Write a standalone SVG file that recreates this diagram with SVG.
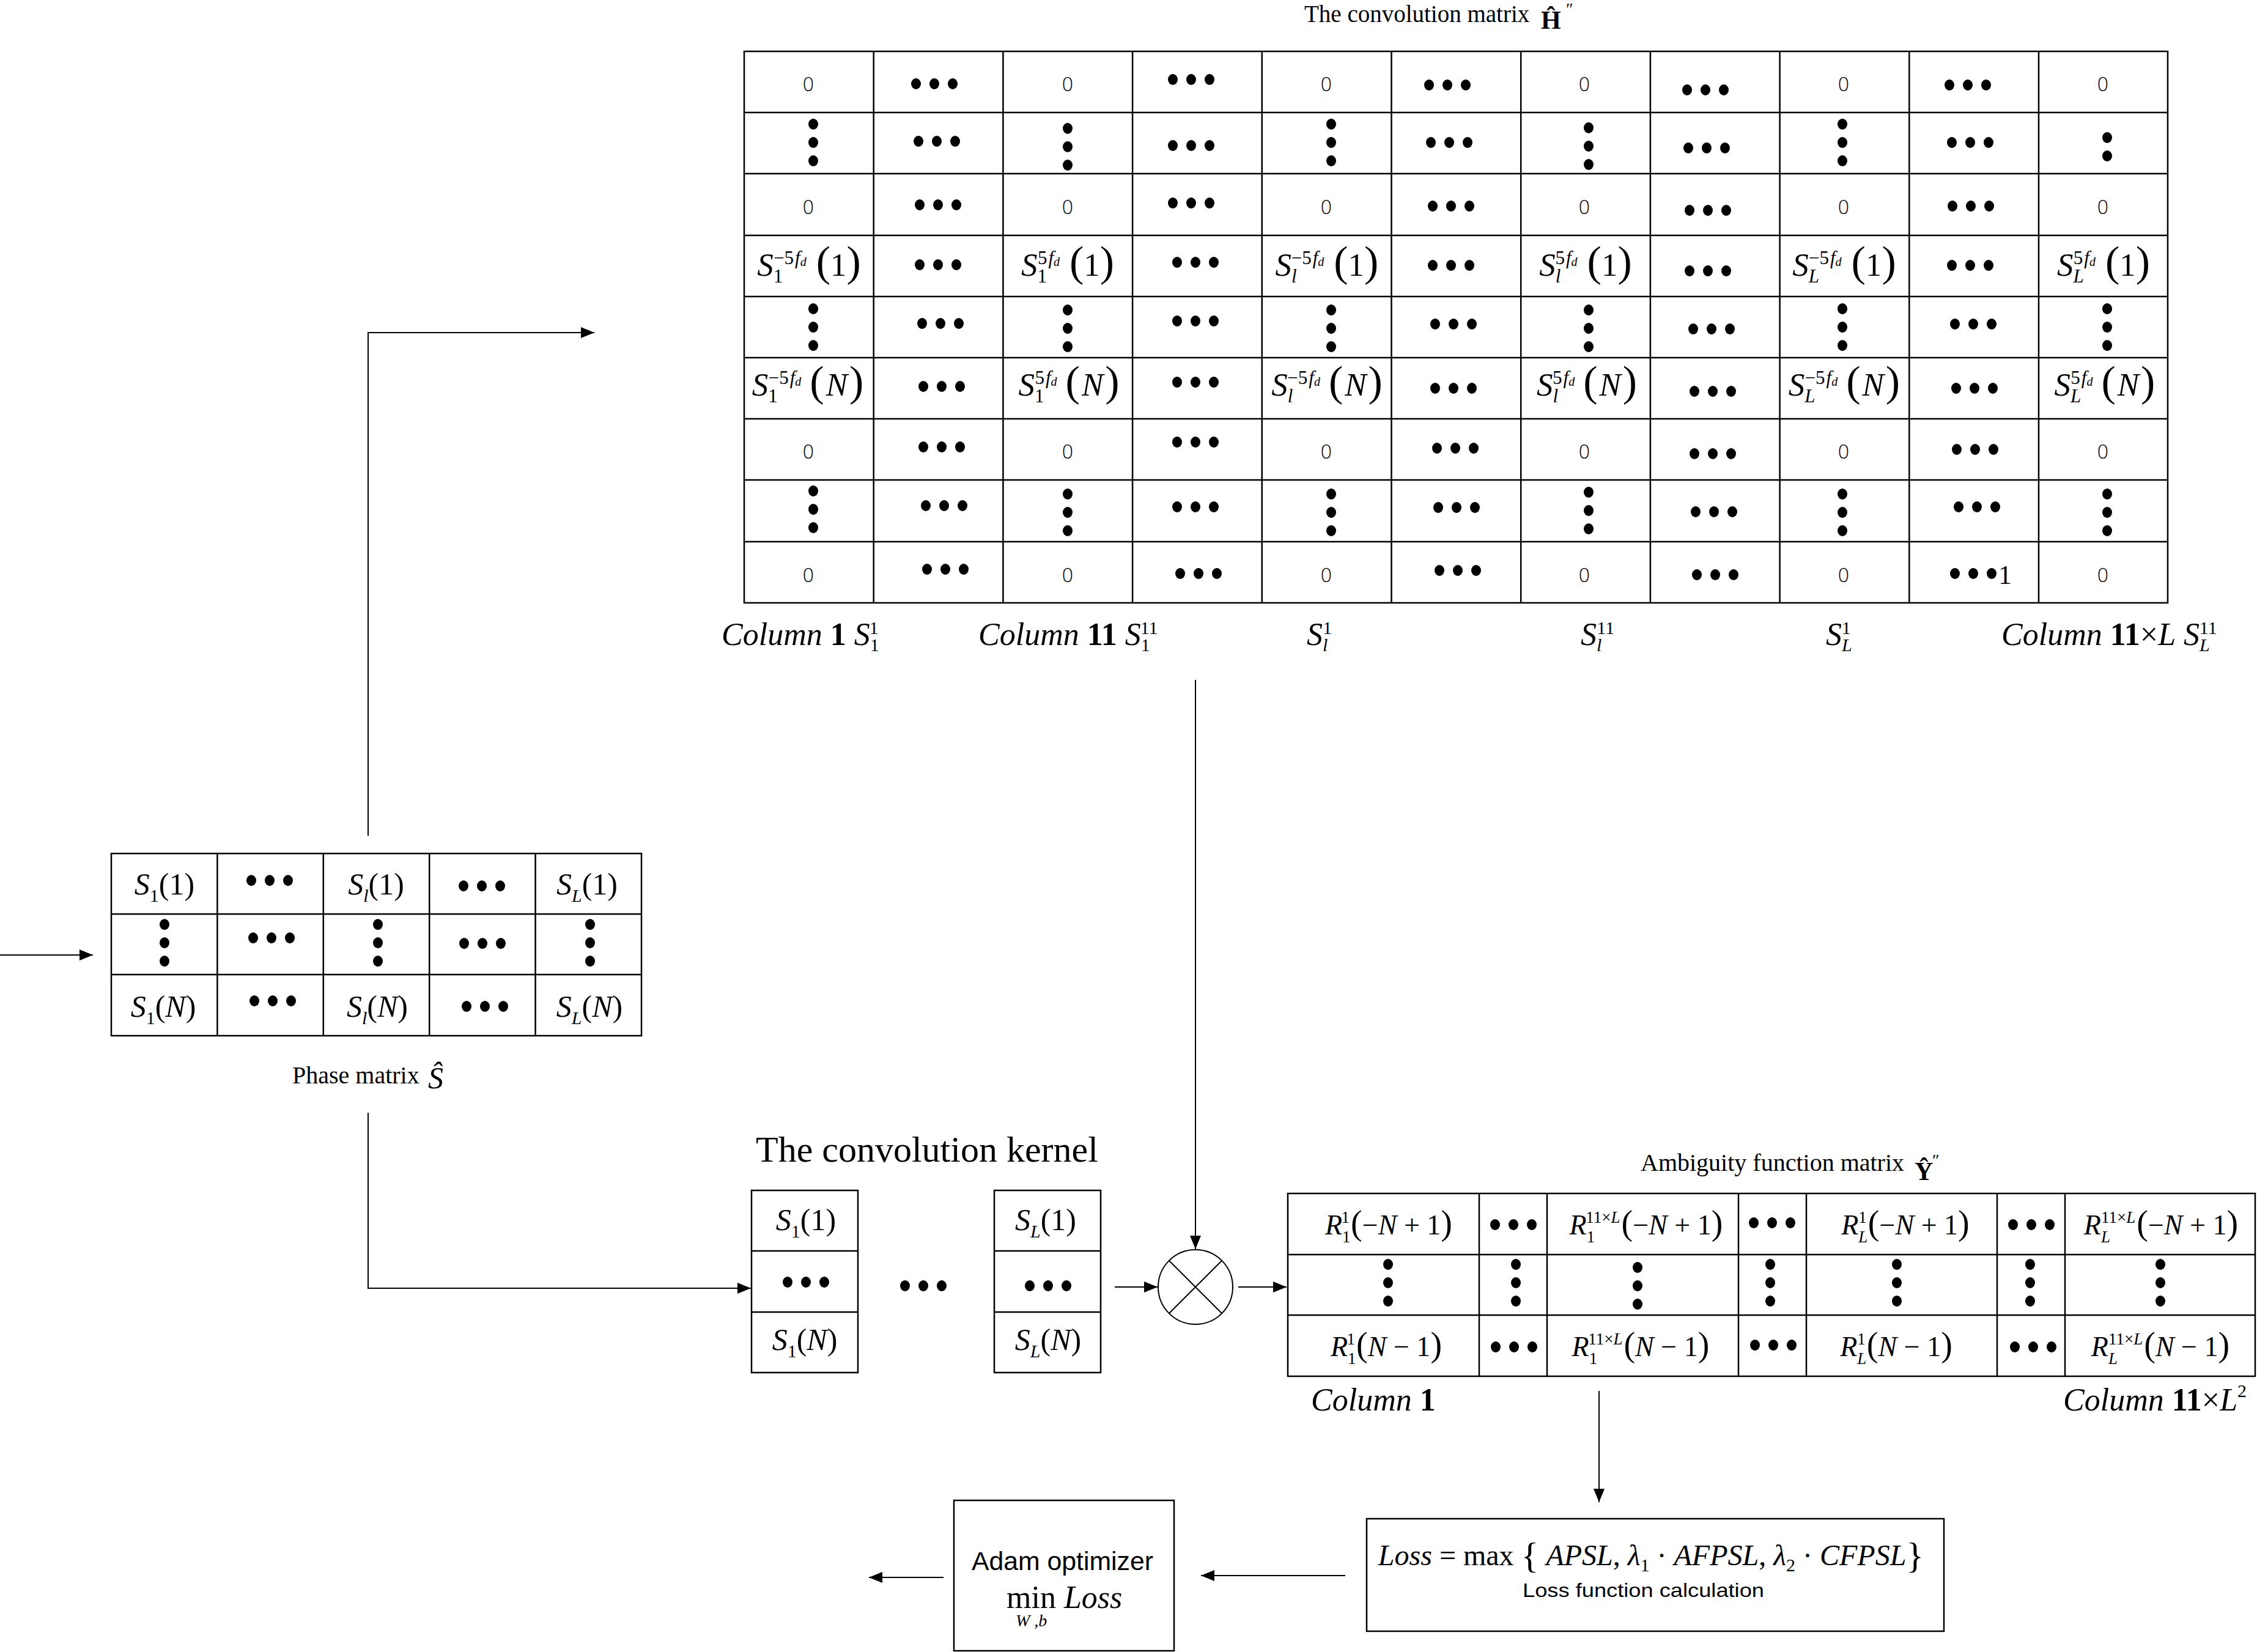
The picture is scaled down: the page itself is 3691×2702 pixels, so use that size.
<svg xmlns="http://www.w3.org/2000/svg" xmlns:xlink="http://www.w3.org/1999/xlink" width="3691" height="2702" viewBox="0 0 3691 2702">
<style>
.ln{stroke:#000;stroke-width:2.5;fill:none}
.bx{fill:#fff;stroke:#000;stroke-width:2.5}
.cn{stroke:#000;stroke-width:2;fill:none;marker-end:url(#ah)}
.tm{font-family:"Liberation Serif","Times New Roman",serif;fill:#000}
.i{font-style:italic}
.b{font-weight:bold}
.f{font-family:"Liberation Serif","Times New Roman",serif;font-size:53px;text-anchor:middle}
.sb{font-size:31px}
.sd{font-size:20px}
.pr{font-size:70px}
.z{font-family:"DejaVu Sans","Liberation Sans",sans-serif;font-weight:200;font-size:32px;text-anchor:middle}
.p{font-family:"Liberation Serif","Times New Roman",serif;font-size:50px;text-anchor:middle}
.ps{font-size:30px}
.r{font-family:"Liberation Serif","Times New Roman",serif;font-size:46px;text-anchor:middle}
.rs{font-size:27px}
.rp{font-size:56px}
.cl{font-family:"Liberation Serif","Times New Roman",serif;font-size:52px}
.ls{font-size:30px}
.sn{font-family:"Liberation Sans",Arial,sans-serif}
</style>
<defs>
<marker id="ah" markerUnits="userSpaceOnUse" markerWidth="24" markerHeight="18" refX="22" refY="9" orient="auto"><path d="M0,0 L22,9 L0,18 Z" fill="#000"/></marker>
<g id="hd"><ellipse cx="-30" cy="0" rx="8" ry="9"/><ellipse cx="0" cy="0" rx="8" ry="9"/><ellipse cx="30" cy="0" rx="8" ry="9"/></g>
<g id="vd"><ellipse cx="0" cy="-30" rx="8" ry="9"/><ellipse cx="0" cy="0" rx="8" ry="9"/><ellipse cx="0" cy="30" rx="8" ry="9"/></g>
<g id="vd2"><ellipse cx="0" cy="-15" rx="8" ry="9"/><ellipse cx="0" cy="15" rx="8" ry="9"/></g>
</defs>
<rect width="3691" height="2702" fill="#fff"/>

<g id="connectors">
<path class="cn" d="M0,1562 H152"/>
<path class="cn" d="M602,1367 V544 H972"/>
<path class="cn" d="M602,1820 V2107 H1228"/>
<path class="cn" d="M1955,1112 V2043"/>
<path class="cn" d="M1823,2105 H1893"/>
<path class="cn" d="M2025,2105 H2104"/>
<path class="cn" d="M2615,2275 V2457"/>
<path class="cn" d="M2200,2577 H1964"/>
<path class="cn" d="M1543,2580 H1421"/>
</g>

<g id="h-matrix-title" class="tm">
<text x="2133" y="36" font-size="39">The convolution matrix</text>
<text x="2520" y="47" font-size="42" class="b">Ĥ</text>
<text x="2561" y="24" font-size="28">″</text>
</g>

<g id="h-matrix">
<rect class="bx" x="1217" y="84" width="2328" height="902"/>
<path class="ln" d="M1217,184H3545M1217,284H3545M1217,385H3545M1217,485H3545M1217,585H3545M1217,685H3545M1217,785H3545M1217,886H3545"/>
<path class="ln" d="M1428.7,84V986M1640.4,84V986M1852.1,84V986M2063.8,84V986M2275.5,84V986M2487.2,84V986M2698.9,84V986M2910.6,84V986M3122.3,84V986M3334,84V986"/>
<g class="z">
<text x="1322" y="149">0</text><text x="1746" y="149">0</text><text x="2169" y="149">0</text><text x="2591" y="149">0</text><text x="3015" y="149">0</text><text x="3439" y="149">0</text>
<text x="1322" y="350">0</text><text x="1746" y="350">0</text><text x="2169" y="350">0</text><text x="2591" y="350">0</text><text x="3015" y="350">0</text><text x="3439" y="350">0</text>
<text x="1322" y="750">0</text><text x="1746" y="750">0</text><text x="2169" y="750">0</text><text x="2591" y="750">0</text><text x="3015" y="750">0</text><text x="3439" y="750">0</text>
<text x="1322" y="952">0</text><text x="1746" y="952">0</text><text x="2169" y="952">0</text><text x="2591" y="952">0</text><text x="3015" y="952">0</text><text x="3439" y="952">0</text>
</g>
<g fill="#000">
<use href="#hd" x="1528" y="137"/><use href="#hd" x="1948" y="130"/><use href="#hd" x="2367" y="139"/><use href="#hd" x="2789" y="147"/><use href="#hd" x="3218" y="139"/>
<use href="#hd" x="1532" y="231"/><use href="#hd" x="1948" y="238"/><use href="#hd" x="2370" y="233"/><use href="#hd" x="2791" y="242"/><use href="#hd" x="3222" y="233"/>
<use href="#hd" x="1534" y="335"/><use href="#hd" x="1948" y="332"/><use href="#hd" x="2373" y="337"/><use href="#hd" x="2793" y="344"/><use href="#hd" x="3223" y="337"/>
<use href="#hd" x="1534" y="433"/><use href="#hd" x="1955" y="429"/><use href="#hd" x="2373" y="434"/><use href="#hd" x="2793" y="443"/><use href="#hd" x="3222" y="434"/>
<use href="#hd" x="1538" y="529"/><use href="#hd" x="1955" y="525"/><use href="#hd" x="2377" y="530"/><use href="#hd" x="2799" y="538"/><use href="#hd" x="3227" y="530"/>
<use href="#hd" x="1540" y="632"/><use href="#hd" x="1955" y="625"/><use href="#hd" x="2377" y="635"/><use href="#hd" x="2801" y="640"/><use href="#hd" x="3229" y="635"/>
<use href="#hd" x="1540" y="731"/><use href="#hd" x="1955" y="723"/><use href="#hd" x="2380" y="733"/><use href="#hd" x="2801" y="742"/><use href="#hd" x="3230" y="735"/>
<use href="#hd" x="1544" y="827"/><use href="#hd" x="1955" y="829"/><use href="#hd" x="2382" y="830"/><use href="#hd" x="2803" y="837"/><use href="#hd" x="3233" y="829"/>
<use href="#hd" x="1546" y="931"/><use href="#hd" x="1960" y="938"/><use href="#hd" x="2384" y="933"/><use href="#hd" x="2805" y="940"/><use href="#hd" x="3227" y="938"/>
<use href="#vd" x="1330" y="233"/><use href="#vd" x="1746" y="240"/><use href="#vd" x="2177" y="233"/><use href="#vd" x="2598" y="239"/><use href="#vd" x="3013" y="233"/><use href="#vd2" x="3446" y="240"/>
<use href="#vd" x="1330" y="535"/><use href="#vd" x="1746" y="537"/><use href="#vd" x="2177" y="537"/><use href="#vd" x="2598" y="537"/><use href="#vd" x="3013" y="535"/><use href="#vd" x="3446" y="535"/>
<use href="#vd" x="1330" y="833"/><use href="#vd" x="1746" y="838"/><use href="#vd" x="2177" y="838"/><use href="#vd" x="2598" y="835"/><use href="#vd" x="3013" y="838"/><use href="#vd" x="3446" y="838"/>
</g>
<text class="tm" x="3268" y="955" font-size="44">1</text>
<text class="f" x="1323" y="451"><tspan class="i">S</tspan><tspan class="sb" dy="11">1</tspan><tspan class="sb" dx="-15" dy="-30">−5</tspan><tspan class="sb i" dx="2">f</tspan><tspan class="sd i" dy="3">d</tspan><tspan class="pr" dx="16" dy="16">(</tspan>1<tspan class="pr">)</tspan></text>
<text class="f" x="1746" y="451"><tspan class="i">S</tspan><tspan class="sb" dy="11">1</tspan><tspan class="sb" dx="-15" dy="-30">5</tspan><tspan class="sb i" dx="2">f</tspan><tspan class="sd i" dy="3">d</tspan><tspan class="pr" dx="16" dy="16">(</tspan>1<tspan class="pr">)</tspan></text>
<text class="f" x="2170" y="451"><tspan class="i">S</tspan><tspan class="sb i" dy="11">l</tspan><tspan class="sb" dx="-9" dy="-30">−5</tspan><tspan class="sb i" dx="2">f</tspan><tspan class="sd i" dy="3">d</tspan><tspan class="pr" dx="16" dy="16">(</tspan>1<tspan class="pr">)</tspan></text>
<text class="f" x="2593" y="451"><tspan class="i">S</tspan><tspan class="sb i" dy="11">l</tspan><tspan class="sb" dx="-9" dy="-30">5</tspan><tspan class="sb i" dx="2">f</tspan><tspan class="sd i" dy="3">d</tspan><tspan class="pr" dx="16" dy="16">(</tspan>1<tspan class="pr">)</tspan></text>
<text class="f" x="3016" y="451"><tspan class="i">S</tspan><tspan class="sb i" dy="11">L</tspan><tspan class="sb" dx="-17" dy="-30">−5</tspan><tspan class="sb i" dx="2">f</tspan><tspan class="sd i" dy="3">d</tspan><tspan class="pr" dx="16" dy="16">(</tspan>1<tspan class="pr">)</tspan></text>
<text class="f" x="3440" y="451"><tspan class="i">S</tspan><tspan class="sb i" dy="11">L</tspan><tspan class="sb" dx="-17" dy="-30">5</tspan><tspan class="sb i" dx="2">f</tspan><tspan class="sd i" dy="3">d</tspan><tspan class="pr" dx="16" dy="16">(</tspan>1<tspan class="pr">)</tspan></text>
<text class="f" x="1321" y="647"><tspan class="i">S</tspan><tspan class="sb" dy="11">1</tspan><tspan class="sb" dx="-15" dy="-30">−5</tspan><tspan class="sb i" dx="2">f</tspan><tspan class="sd i" dy="3">d</tspan><tspan class="pr" dx="14" dy="16">(</tspan><tspan class="i" dx="3">N</tspan><tspan class="pr" dx="3">)</tspan></text>
<text class="f" x="1748" y="647"><tspan class="i">S</tspan><tspan class="sb" dy="11">1</tspan><tspan class="sb" dx="-15" dy="-30">5</tspan><tspan class="sb i" dx="2">f</tspan><tspan class="sd i" dy="3">d</tspan><tspan class="pr" dx="14" dy="16">(</tspan><tspan class="i" dx="3">N</tspan><tspan class="pr" dx="3">)</tspan></text>
<text class="f" x="2170" y="647"><tspan class="i">S</tspan><tspan class="sb i" dy="11">l</tspan><tspan class="sb" dx="-9" dy="-30">−5</tspan><tspan class="sb i" dx="2">f</tspan><tspan class="sd i" dy="3">d</tspan><tspan class="pr" dx="14" dy="16">(</tspan><tspan class="i" dx="3">N</tspan><tspan class="pr" dx="3">)</tspan></text>
<text class="f" x="2595" y="647"><tspan class="i">S</tspan><tspan class="sb i" dy="11">l</tspan><tspan class="sb" dx="-9" dy="-30">5</tspan><tspan class="sb i" dx="2">f</tspan><tspan class="sd i" dy="3">d</tspan><tspan class="pr" dx="14" dy="16">(</tspan><tspan class="i" dx="3">N</tspan><tspan class="pr" dx="3">)</tspan></text>
<text class="f" x="3016" y="647"><tspan class="i">S</tspan><tspan class="sb i" dy="11">L</tspan><tspan class="sb" dx="-17" dy="-30">−5</tspan><tspan class="sb i" dx="2">f</tspan><tspan class="sd i" dy="3">d</tspan><tspan class="pr" dx="14" dy="16">(</tspan><tspan class="i" dx="3">N</tspan><tspan class="pr" dx="3">)</tspan></text>
<text class="f" x="3442" y="647"><tspan class="i">S</tspan><tspan class="sb i" dy="11">L</tspan><tspan class="sb" dx="-17" dy="-30">5</tspan><tspan class="sb i" dx="2">f</tspan><tspan class="sd i" dy="3">d</tspan><tspan class="pr" dx="14" dy="16">(</tspan><tspan class="i" dx="3">N</tspan><tspan class="pr" dx="3">)</tspan></text>
</g>

<g id="h-matrix-labels" class="cl">
<text x="1180" y="1055"><tspan class="i">Column</tspan> <tspan class="b">1</tspan> <tspan class="i">S</tspan><tspan class="ls" dy="10">1</tspan><tspan class="ls" dx="-15" dy="-28">1</tspan></text>
<text x="1600" y="1055"><tspan class="i">Column</tspan> <tspan class="b">11</tspan> <tspan class="i">S</tspan><tspan class="ls" dy="10">1</tspan><tspan class="ls" dx="-15" dy="-28">11</tspan></text>
<text x="2137" y="1055"><tspan class="i">S</tspan><tspan class="ls i" dy="10">l</tspan><tspan class="ls" dx="-8" dy="-28">1</tspan></text>
<text x="2585" y="1055"><tspan class="i">S</tspan><tspan class="ls i" dy="10">l</tspan><tspan class="ls" dx="-8" dy="-28">11</tspan></text>
<text x="2986" y="1055"><tspan class="i">S</tspan><tspan class="ls i" dy="10">L</tspan><tspan class="ls" dx="-17" dy="-28">1</tspan></text>
<text x="3273" y="1055"><tspan class="i">Column</tspan> <tspan class="b">11</tspan>×<tspan class="i">L</tspan> <tspan class="i">S</tspan><tspan class="ls i" dy="10">L</tspan><tspan class="ls" dx="-17" dy="-28">11</tspan></text>
</g>

<g id="phase-matrix">
<rect class="bx" x="182" y="1396" width="867" height="298"/>
<path class="ln" d="M182,1495H1049M182,1594H1049M355.4,1396V1694M528.8,1396V1694M702.2,1396V1694M875.6,1396V1694"/>
<text class="p" x="269" y="1463"><tspan class="i">S</tspan><tspan class="ps" dy="12">1</tspan><tspan dy="-12">(1)</tspan></text>
<text class="p" x="615" y="1463"><tspan class="i">S</tspan><tspan class="ps i" dy="12">l</tspan><tspan dy="-12">(1)</tspan></text>
<text class="p" x="960" y="1463"><tspan class="i">S</tspan><tspan class="ps i" dy="12">L</tspan><tspan dy="-12">(1)</tspan></text>
<text class="p" x="267" y="1663"><tspan class="i">S</tspan><tspan class="ps" dy="12">1</tspan><tspan dy="-12">(</tspan><tspan class="i">N</tspan>)</text>
<text class="p" x="617" y="1663"><tspan class="i">S</tspan><tspan class="ps i" dy="12">l</tspan><tspan dy="-12">(</tspan><tspan class="i">N</tspan>)</text>
<text class="p" x="964" y="1663"><tspan class="i">S</tspan><tspan class="ps i" dy="12">L</tspan><tspan dy="-12">(</tspan><tspan class="i">N</tspan>)</text>
<g fill="#000">
<use href="#hd" x="441" y="1440"/><use href="#hd" x="788" y="1449"/>
<use href="#hd" x="444" y="1534"/><use href="#hd" x="789" y="1543"/>
<use href="#hd" x="446" y="1637"/><use href="#hd" x="793" y="1646"/>
<use href="#vd" x="269" y="1542"/><use href="#vd" x="618" y="1542"/><use href="#vd" x="965" y="1542"/>
</g>
</g>
<g id="phase-matrix-label" class="tm">
<text x="478" y="1772" font-size="40">Phase matrix</text>
<text x="700" y="1780" font-size="50" class="i">Ŝ</text>
</g>

<g id="kernel-title" class="tm"><text x="1236" y="1900" font-size="60">The convolution kernel</text></g>
<g id="kernel-1">
<rect class="bx" x="1229" y="1947" width="174" height="298"/>
<path class="ln" d="M1229,2046H1403M1229,2146H1403"/>
<text class="p" x="1318" y="2012"><tspan class="i">S</tspan><tspan class="ps" dy="12">1</tspan><tspan dy="-12">(1)</tspan></text>
<use href="#hd" x="1318" y="2097"/>
<text class="p" x="1316" y="2208"><tspan class="i">S</tspan><tspan class="ps" dy="12">1</tspan><tspan dy="-12">(</tspan><tspan class="i">N</tspan>)</text>
</g>
<g id="kernel-dots"><use href="#hd" x="1510" y="2103"/></g>
<g id="kernel-L">
<rect class="bx" x="1626" y="1947" width="174" height="298"/>
<path class="ln" d="M1626,2046H1800M1626,2146H1800"/>
<text class="p" x="1710" y="2012"><tspan class="i">S</tspan><tspan class="ps i" dy="12">L</tspan><tspan dy="-12">(1)</tspan></text>
<use href="#hd" x="1714" y="2103"/>
<text class="p" x="1714" y="2208"><tspan class="i">S</tspan><tspan class="ps i" dy="12">L</tspan><tspan dy="-12">(</tspan><tspan class="i">N</tspan>)</text>
</g>

<g id="multiply">
<circle cx="1955" cy="2105" r="61" fill="#fff" stroke="#000" stroke-width="2"/>
<path d="M1912,2062L1998,2148M1998,2062L1912,2148" stroke="#000" stroke-width="2"/>
</g>

<g id="y-matrix-title" class="tm">
<text x="2683" y="1915" font-size="40">Ambiguity function matrix</text>
<text x="3131" y="1930" font-size="42" class="b">Ŷ</text>
<text x="3160" y="1907" font-size="28">″</text>
</g>
<g id="y-matrix">
<rect class="bx" x="2106" y="1952" width="1582" height="299"/>
<path class="ln" d="M2106,2052H3688M2106,2151H3688M2419,1952V2251M2530,1952V2251M2843,1952V2251M2954,1952V2251M3266,1952V2251M3377,1952V2251"/>
<text class="r" x="2271" y="2019"><tspan class="i">R</tspan><tspan class="rs" dy="13">1</tspan><tspan class="rs" dx="-14" dy="-32">1</tspan><tspan class="rp" dx="2" dy="19">(</tspan>−<tspan class="i">N</tspan> + 1<tspan class="rp">)</tspan></text>
<text class="r" x="2692" y="2019"><tspan class="i">R</tspan><tspan class="rs" dy="13">1</tspan><tspan class="rs" dx="-14" dy="-32">11×<tspan class="i">L</tspan></tspan><tspan class="rp" dx="2" dy="19">(</tspan>−<tspan class="i">N</tspan> + 1<tspan class="rp">)</tspan></text>
<text class="r" x="3116" y="2019"><tspan class="i">R</tspan><tspan class="rs i" dy="13">L</tspan><tspan class="rs" dx="-15" dy="-32">1</tspan><tspan class="rp" dx="2" dy="19">(</tspan>−<tspan class="i">N</tspan> + 1<tspan class="rp">)</tspan></text>
<text class="r" x="3534" y="2019"><tspan class="i">R</tspan><tspan class="rs i" dy="13">L</tspan><tspan class="rs" dx="-15" dy="-32">11×<tspan class="i">L</tspan></tspan><tspan class="rp" dx="2" dy="19">(</tspan>−<tspan class="i">N</tspan> + 1<tspan class="rp">)</tspan></text>
<text class="r" x="2267" y="2218"><tspan class="i">R</tspan><tspan class="rs" dy="13">1</tspan><tspan class="rs" dx="-14" dy="-32">1</tspan><tspan class="rp" dx="2" dy="19">(</tspan><tspan class="i">N</tspan> − 1<tspan class="rp">)</tspan></text>
<text class="r" x="2683" y="2218"><tspan class="i">R</tspan><tspan class="rs" dy="13">1</tspan><tspan class="rs" dx="-14" dy="-32">11×<tspan class="i">L</tspan></tspan><tspan class="rp" dx="2" dy="19">(</tspan><tspan class="i">N</tspan> − 1<tspan class="rp">)</tspan></text>
<text class="r" x="3101" y="2218"><tspan class="i">R</tspan><tspan class="rs i" dy="13">L</tspan><tspan class="rs" dx="-15" dy="-32">1</tspan><tspan class="rp" dx="2" dy="19">(</tspan><tspan class="i">N</tspan> − 1<tspan class="rp">)</tspan></text>
<text class="r" x="3533" y="2218"><tspan class="i">R</tspan><tspan class="rs i" dy="13">L</tspan><tspan class="rs" dx="-15" dy="-32">11×<tspan class="i">L</tspan></tspan><tspan class="rp" dx="2" dy="19">(</tspan><tspan class="i">N</tspan> − 1<tspan class="rp">)</tspan></text>
<g fill="#000">
<use href="#hd" x="2475" y="2003"/><use href="#hd" x="2898" y="2000"/><use href="#hd" x="3322" y="2003"/>
<use href="#hd" x="2476" y="2203"/><use href="#hd" x="2900" y="2200"/><use href="#hd" x="3325" y="2203"/>
<use href="#vd" x="2270" y="2098"/><use href="#vd" x="2479" y="2098"/><use href="#vd" x="2678" y="2103"/><use href="#vd" x="2895" y="2098"/><use href="#vd" x="3102" y="2098"/><use href="#vd" x="3320" y="2098"/><use href="#vd" x="3533" y="2098"/>
</g>
</g>
<g id="y-matrix-labels" class="cl">
<text x="2144" y="2307"><tspan class="i">Column</tspan> <tspan class="b">1</tspan></text>
<text x="3374" y="2307"><tspan class="i">Column</tspan> <tspan class="b">11</tspan>×<tspan class="i">L</tspan><tspan class="ls" dy="-22">2</tspan></text>
</g>

<g id="loss-box">
<rect class="bx" x="2235" y="2484" width="944" height="184"/>
<text class="tm" x="2700" y="2560" font-size="48" text-anchor="middle"><tspan class="i">Loss</tspan> = max <tspan font-size="60" dy="4">{</tspan> <tspan class="i" dy="-4">APSL</tspan>, <tspan class="i">λ</tspan><tspan font-size="30" dy="10">1</tspan><tspan dy="-10"> · </tspan><tspan class="i">AFPSL</tspan>, <tspan class="i">λ</tspan><tspan font-size="30" dy="10">2</tspan><tspan dy="-10"> · </tspan><tspan class="i">CFPSL</tspan><tspan font-size="60" dy="4">}</tspan></text>
<text class="sn" x="2490" y="2612" font-size="32" textLength="395" lengthAdjust="spacingAndGlyphs">Loss function calculation</text>
</g>

<g id="adam-box">
<rect class="bx" x="1560" y="2454" width="360" height="246"/>
<text class="sn" x="1589" y="2568" font-size="43" textLength="297" lengthAdjust="spacingAndGlyphs">Adam optimizer</text>
<text class="tm" x="1646" y="2630" font-size="52">min <tspan class="i">Loss</tspan></text>
<text class="tm i" x="1661" y="2660" font-size="28">W ,b</text>
</g>
</svg>
